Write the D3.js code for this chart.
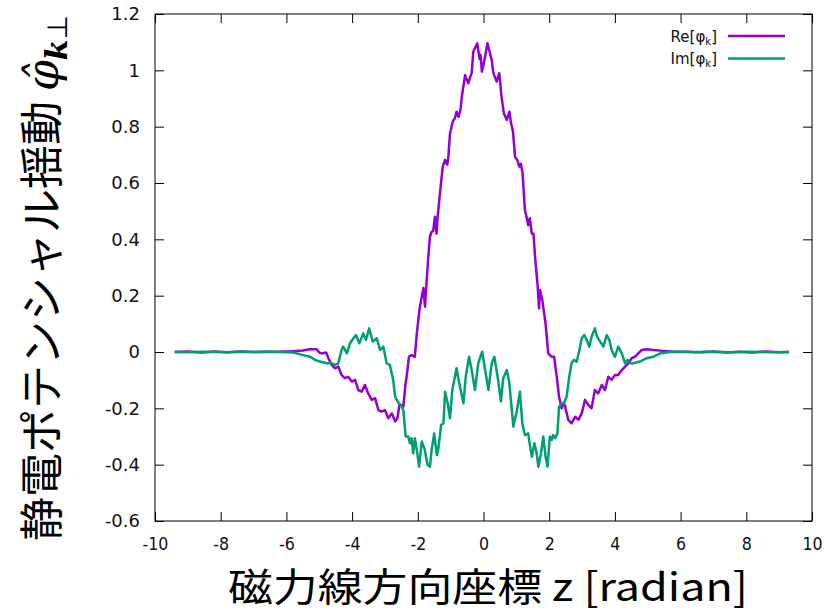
<!DOCTYPE html>
<html>
<head>
<meta charset="utf-8">
<script src="https://cdn.jsdelivr.net/npm/d3@7"></script>
<style>
  body { margin: 0; background: #fff; }
  svg { display: block; }
</style>
</head>
<body>
<div id="chart"></div>
<script>
var W = 827, H = 613;
var margin = {left: 155, right: 15, top: 14, bottom: 92};

// x positions (radian) and values
var zRe = [-9.4, -9.0, -8.6, -8.2, -7.8, -7.4, -7.0, -6.6, -6.2, -5.8, -5.5, -5.28, -5.08, -5.0, -4.93, -4.79,
  -4.72, -4.62, -4.52, -4.42, -4.32, -4.22, -4.12, -4.01, -3.91, -3.81, -3.71, -3.61, -3.51, -3.40, -3.30,
  -3.20, -3.10, -3.00, -2.90, -2.79, -2.69, -2.62, -2.56, -2.49, -2.44, -2.38, -2.34, -2.27, -2.19, -2.09,
  -2.03, -1.95, -1.88, -1.83, -1.78, -1.75, -1.68, -1.63, -1.58, -1.53, -1.48, -1.43, -1.40, -1.32, -1.24,
  -1.17, -1.10, -1.07, -1.02, -0.93, -0.87, -0.82, -0.76, -0.70, -0.66, -0.56, -0.50, -0.46, -0.41, -0.36,
  -0.31, -0.19, -0.12, -0.09, -0.05, 0.0, 0.05, 0.12, 0.25, 0.30, 0.35, 0.40, 0.44, 0.48, 0.55, 0.62, 0.71,
  0.79, 0.83, 0.90, 0.96, 1.03, 1.09, 1.14, 1.19, 1.26, 1.31, 1.36, 1.41, 1.47, 1.52, 1.57, 1.65, 1.69, 1.72,
  1.79, 1.89, 1.97, 2.08, 2.15, 2.23, 2.30, 2.38, 2.43, 2.48, 2.58, 2.68, 2.79, 2.89, 2.99, 3.09, 3.19, 3.29,
  3.39, 3.49, 3.60, 3.70, 3.80, 3.90, 4.00, 4.10, 4.21, 4.31, 4.41, 4.51, 4.61, 4.71, 4.82, 4.97, 5.17, 5.47,
  5.78, 6.2, 6.6, 7.0, 7.4, 7.8, 8.2, 8.6, 9.0, 9.3];
var reVals = [0, 0.002, -0.002, 0.002, -0.001, 0.002, 0, 0.001, 0.001, 0.003, 0.005, 0.01, 0.01, -0.002, -0.005, -0.002,
  -0.022, -0.046, -0.058, -0.052, -0.082, -0.093, -0.088, -0.105, -0.099, -0.135, -0.141, -0.117, -0.147, -0.17, -0.164,
  -0.206, -0.212, -0.206, -0.235, -0.218, -0.247, -0.235, -0.188, -0.188, -0.194, -0.12, -0.088, -0.017, -0.011, -0.017,
  0.066, 0.15, 0.196, 0.227, 0.161, 0.22, 0.338, 0.41, 0.427, 0.43, 0.48, 0.42, 0.475, 0.57, 0.658,
  0.682, 0.665, 0.693, 0.776, 0.82, 0.83, 0.853, 0.835, 0.86, 0.906, 0.983, 0.965, 0.954, 0.975, 0.99,
  1.066, 1.096, 1.04, 1.055, 0.995, 1.02, 1.05, 1.096, 1.037, 0.99, 0.975, 0.96, 0.975, 0.99, 0.906, 0.847, 0.824,
  0.853, 0.818, 0.78, 0.693, 0.682, 0.658, 0.668, 0.634, 0.504, 0.48, 0.45, 0.475, 0.421, 0.42, 0.338, 0.232, 0.155, 0.22,
  0.185, 0.10, -0.005, -0.017, -0.017, -0.088, -0.159, -0.2, -0.182, -0.19, -0.241, -0.253, -0.23, -0.241, -0.218, -0.17, -0.188, -0.2,
  -0.135, -0.147, -0.117, -0.135, -0.088, -0.099, -0.082, -0.082, -0.064, -0.052, -0.04, -0.022, -0.017, -0.005, 0.007, 0.01, 0.007, 0.004,
  0.001, 0.001, -0.001, 0.002, -0.002, 0.001, -0.002, 0.002, -0.001, 0];

var zIm = [-9.4, -9.0, -8.6, -8.2, -7.8, -7.4, -7.0, -6.6, -6.2, -5.79, -5.49, -5.28, -5.13, -4.98, -4.77, -4.62,
  -4.52, -4.42, -4.32, -4.27, -4.16, -4.06, -3.96, -3.88, -3.78, -3.66, -3.58, -3.48, -3.37, -3.25, -3.15,
  -3.05, -2.95, -2.85, -2.75, -2.69, -2.59, -2.49, -2.44, -2.37, -2.29, -2.24, -2.19, -2.14, -2.09, -2.03,
  -1.96, -1.88, -1.80, -1.70, -1.63, -1.58, -1.50, -1.42, -1.38, -1.29, -1.22, -1.17, -1.09, -1.02, -0.95,
  -0.82, -0.75, -0.61, -0.54, -0.44, -0.36, -0.26, -0.16, -0.04, 0.05, 0.15, 0.25, 0.33, 0.43, 0.53, 0.60,
  0.71, 0.78, 0.91, 1.01, 1.11, 1.18, 1.26, 1.36, 1.42, 1.47, 1.55, 1.62, 1.67, 1.75, 1.82, 1.89, 1.95, 2.02,
  2.08, 2.12, 2.18, 2.25, 2.30, 2.38, 2.45, 2.53, 2.61, 2.68, 2.75, 2.84, 2.92, 2.99, 3.07, 3.14, 3.22, 3.29,
  3.39, 3.46, 3.55, 3.65, 3.75, 3.83, 3.90, 4.00, 4.10, 4.21, 4.31, 4.38, 4.46, 4.56, 4.76, 4.97, 5.17, 5.37,
  5.68, 6.0, 6.4, 6.8, 7.2, 7.6, 8.0, 8.4, 8.8, 9.3];
var imVals = [0, -0.001, 0.001, 0, -0.001, 0.001, 0, 0.001, 0, -0.002, -0.011, -0.017, -0.028, -0.034, -0.04, -0.04,
  -0.046, -0.04, 0.007, 0.019, -0.005, 0.031, 0.049, 0.06, 0.031, 0.066, 0.043, 0.084, 0.037, 0.049, 0.007,
  0.019, -0.04, -0.046, -0.099, -0.159, -0.18, -0.194, -0.206, -0.30, -0.30, -0.324, -0.306, -0.36, -0.306, -0.348,
  -0.407, -0.318, -0.342, -0.401, -0.407, -0.348, -0.289, -0.366, -0.348, -0.259, -0.253, -0.141, -0.182, -0.235, -0.135,
  -0.058, -0.105, -0.182, -0.088, -0.017, -0.064, -0.135, -0.04, 0.001, -0.064, -0.135, -0.04, -0.017, -0.088, -0.176, -0.093,
  -0.064, -0.105, -0.265, -0.212, -0.141, -0.253, -0.295, -0.289, -0.336, -0.372, -0.324, -0.36, -0.407, -0.36, -0.30, -0.372, -0.407, -0.30,
  -0.312, -0.295, -0.306, -0.289, -0.194, -0.182, -0.182, -0.159, -0.088, -0.04, -0.028, -0.034, 0.007, 0.049, 0.06, 0.043, 0.019, 0.054,
  0.084, 0.054, 0.037, 0.019, 0.06, 0.043, 0.007, -0.017, 0.019, -0.005, -0.04, -0.028, -0.04, -0.04, -0.034, -0.022, -0.017, -0.005,
  0.0, 0.001, -0.001, 0.001, 0, -0.001, 0.001, 0, -0.001, 0];

var xTicks = [-10, -8, -6, -4, -2, 0, 2, 4, 6, 8, 10];
var yTicks = [-0.6, -0.4, -0.2, 0, 0.2, 0.4, 0.6, 0.8, 1, 1.2];
var seriesNames = ["Re", "Im"];
var colors = {"Re": "#9400d3", "Im": "#009e73"};

var x = d3.scaleLinear().domain([-10, 10]).range([margin.left, W - margin.right]);
var y = d3.scaleLinear().domain([-0.6, 1.2]).range([H - margin.bottom, margin.top]);

var svg = d3.select("#chart").append("svg")
    .attr("width", W)
    .attr("height", H);

var tickFont = "'DejaVu Sans', sans-serif";

// left axis with labels, ticks pointing inward (gnuplot style)
var yAxis = d3.axisLeft(y).tickValues(yTicks).tickSize(-9).tickPadding(15)
    .tickFormat(function(d) { return String(d); });
svg.append("g")
    .attr("transform", "translate(" + margin.left + ",0)")
    .call(yAxis)
    .call(function(g) { g.select(".domain").remove(); })
    .selectAll("text")
    .style("font-family", tickFont)
    .style("font-size", "18px")
    .attr("fill", "#111");

var xAxis = d3.axisBottom(x).tickValues(xTicks).tickSize(-9).tickPadding(16)
    .tickFormat(function(d) { return String(d); });
svg.append("g")
    .attr("transform", "translate(0," + (H - margin.bottom) + ")")
    .call(xAxis)
    .call(function(g) { g.select(".domain").remove(); })
    .selectAll("text")
    .style("font-family", tickFont)
    .style("font-size", "18px")
    .attr("fill", "#111")
    .attr("transform", "scale(0.88,1)");

// mirrored ticks on top and right
svg.append("g")
    .attr("transform", "translate(0," + margin.top + ")")
    .call(d3.axisTop(x).tickValues(xTicks).tickSize(-9).tickFormat(""))
    .call(function(g) { g.select(".domain").remove(); });
svg.append("g")
    .attr("transform", "translate(" + (W - margin.right) + ",0)")
    .call(d3.axisRight(y).tickValues(yTicks).tickSize(-9).tickFormat(""))
    .call(function(g) { g.select(".domain").remove(); });

svg.append("rect")
    .attr("x", margin.left)
    .attr("y", margin.top)
    .attr("width", W - margin.left - margin.right)
    .attr("height", H - margin.top - margin.bottom)
    .attr("fill", "none")
    .attr("stroke", "#000")
    .attr("stroke-width", 1);

var line = d3.line()
    .x(function(d) { return x(d[0]); })
    .y(function(d) { return y(d[1]); });

var reData = zRe.map(function(z, i) { return [z, reVals[i]]; });
var imData = zIm.map(function(z, i) { return [z, imVals[i]]; });

svg.append("path")
    .datum(reData)
    .attr("d", line)
    .attr("fill", "none")
    .attr("stroke", colors.Re)
    .attr("stroke-width", 2.5)
    .attr("stroke-linejoin", "round");

svg.append("path")
    .datum(imData)
    .attr("d", line)
    .attr("fill", "none")
    .attr("stroke", colors.Im)
    .attr("stroke-width", 2.5)
    .attr("stroke-linejoin", "round");

// legend
var legend = svg.append("g");
seriesNames.forEach(function(name, i) {
    var ly = 36 + i * 22.6;
    var t = legend.append("text")
        .attr("x", 717)
        .attr("y", ly + 5.5)
        .attr("text-anchor", "end")
        .style("font-family", tickFont)
        .style("font-size", "15px")
        .attr("fill", "#111");
    t.append("tspan").text(name + "[φ");
    t.append("tspan").attr("dy", 3).style("font-size", "10px").text("k");
    t.append("tspan").attr("dy", -3).text("]");
    legend.append("line")
        .attr("x1", 728).attr("x2", 785)
        .attr("y1", ly).attr("y2", ly)
        .attr("stroke", colors[name])
        .attr("stroke-width", 2.5);
});

// axis titles
svg.append("text")
    .attr("x", 488)
    .attr("y", 601)
    .attr("text-anchor", "middle")
    .attr("textLength", 520)
    .attr("lengthAdjust", "spacingAndGlyphs")
    .style("font-family", "'Noto Sans CJK JP', sans-serif")
    .style("font-size", "39px")
    .attr("fill", "#000")
    .text("磁力線方向座標 z [radian]");

var yt = svg.append("text")
    .attr("transform", "translate(58,278) rotate(-90)")
    .attr("text-anchor", "middle")
    .style("font-family", "'Noto Sans CJK JP', sans-serif")
    .style("font-size", "44px")
    .attr("fill", "#000");
yt.append("tspan").text("静電ポテンシャル揺動 ");
yt.append("tspan").style("font-family", "'DejaVu Serif', serif").style("font-style", "italic").text("φ̂");
yt.append("tspan").attr("dy", 9).style("font-family", "'DejaVu Serif', serif")
    .style("font-style", "italic").style("font-weight", "bold").style("font-size", "30px").text("k");
yt.append("tspan").style("font-family", "'DejaVu Sans', sans-serif").style("font-size", "28px").text("⊥");
</script>
</body>
</html>
